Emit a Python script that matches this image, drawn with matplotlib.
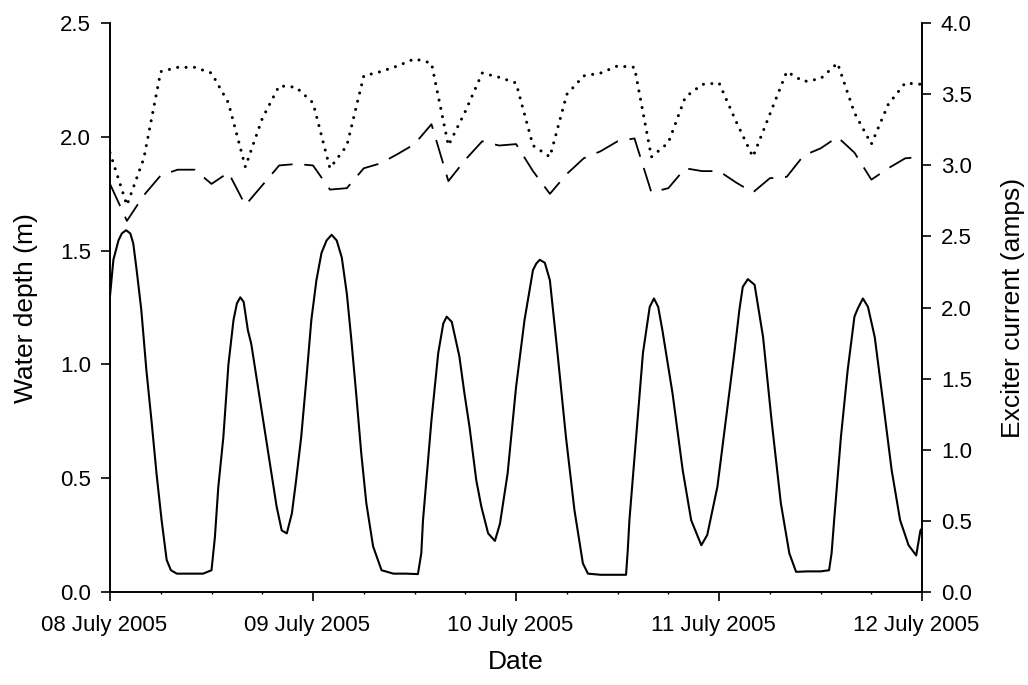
#!/usr/bin/env python3

from datetime import datetime, timedelta

import matplotlib
matplotlib.use("Agg")
import matplotlib.pyplot as plt
import matplotlib.dates as mdates
import matplotlib.transforms as mtransforms


START = datetime(2005, 7, 8)
END = datetime(2005, 7, 12)

# water depth record: hours since 08 July 00:00 and depth (m)
depth_hours = [
    0.0, 0.4, 1.0, 1.4, 1.9, 2.4, 2.75, 3.15, 3.7, 4.3, 4.9, 5.5, 6.1, 6.7, 7.2, 7.9, 9.0,
    10.0, 11.0, 12.0, 12.4, 12.8, 13.4, 14.0, 14.6, 15.0, 15.4, 15.8, 16.3, 16.7, 17.5,
    18.1, 18.9, 19.7, 20.3, 20.9, 21.5, 22.0, 22.6, 23.2, 23.8, 24.4, 25.0, 25.6, 26.2,
    26.8, 27.4, 28.0, 28.5, 29.1, 29.7, 30.3, 31.1, 32.1, 33.5, 35.0, 36.4, 36.8, 37.0,
    37.6, 38.0, 38.8, 39.4, 39.8, 40.4, 41.3, 41.9, 42.5, 43.3, 43.9, 44.7, 45.5, 46.1,
    47.0, 48.0, 49.0, 50.0, 50.4, 50.8, 51.4, 52.0, 52.9, 53.9, 54.9, 55.9, 56.5, 58.0,
    60.0, 61.0, 61.2, 61.4, 62.2, 63.0, 63.8, 64.3, 64.8, 65.3, 66.5, 67.7, 68.7, 69.9,
    70.6, 71.8, 72.8, 73.8, 74.4, 74.8, 75.4, 76.2, 77.2, 78.2, 79.3, 80.3, 81.1, 82.5,
    84.0, 85.0, 85.3, 85.6, 86.4, 87.2, 88.0, 88.4, 89.0, 89.6, 90.4, 91.4, 92.4, 93.4,
    94.4, 95.3, 95.8, 96.0,
]
depth_m = [
    1.30, 1.46, 1.545, 1.576, 1.59, 1.576, 1.532, 1.415, 1.24, 0.975, 0.755, 0.52, 0.315, 0.14, 0.095, 0.08, 0.08,
    0.08, 0.08, 0.095, 0.24, 0.46, 0.68, 1.00, 1.195, 1.268, 1.295, 1.275, 1.15, 1.09, 0.90,
    0.755, 0.565, 0.374, 0.27, 0.257, 0.345, 0.49, 0.68, 0.93, 1.195, 1.37, 1.49, 1.545, 1.57,
    1.545, 1.47, 1.31, 1.12, 0.872, 0.61, 0.39, 0.20, 0.095, 0.08, 0.08, 0.078, 0.17, 0.315,
    0.58, 0.755, 1.05, 1.18, 1.21, 1.187, 1.035, 0.872, 0.725, 0.49, 0.374, 0.257, 0.224, 0.30,
    0.52, 0.90, 1.195, 1.415, 1.444, 1.46, 1.447, 1.37, 1.05, 0.68, 0.36, 0.125, 0.08, 0.075,
    0.075, 0.075, 0.18, 0.315, 0.68, 1.05, 1.253, 1.29, 1.253, 1.15, 0.872, 0.535, 0.315, 0.205,
    0.25, 0.462, 0.755, 1.05, 1.24, 1.341, 1.375, 1.35, 1.12, 0.755, 0.39, 0.17, 0.088, 0.09,
    0.09, 0.095, 0.17, 0.315, 0.68, 0.975, 1.21, 1.246, 1.29, 1.253, 1.12, 0.83, 0.535, 0.315,
    0.205, 0.16, 0.27, 0.28,
]

# exciter current, logged every two hours
current_hours = list(range(0, 97, 2))
current_dotted = [
    3.09, 2.72, 3.05, 3.66, 3.69, 3.69, 3.65, 3.44, 2.99, 3.33, 3.56, 3.55, 3.44,
    2.98, 3.14, 3.63, 3.66, 3.70, 3.75, 3.72, 3.14, 3.38, 3.65, 3.62, 3.58,
    3.14, 3.06, 3.50, 3.63, 3.65, 3.70, 3.69, 3.06, 3.16, 3.48, 3.57, 3.58,
    3.31, 3.06, 3.36, 3.66, 3.59, 3.61, 3.72, 3.37, 3.15, 3.43, 3.58, 3.57,
]
current_dashed = [
    2.87, 2.61, 2.79, 2.93, 2.97, 2.97, 2.87, 2.95, 2.72, 2.86, 3.00, 3.01, 3.00,
    2.83, 2.84, 2.98, 3.015, 3.08, 3.15, 3.29, 2.89, 3.04, 3.17, 3.14, 3.15,
    2.96, 2.80, 2.94, 3.05, 3.10, 3.17, 3.19, 2.81, 2.84, 2.98, 2.96, 2.96,
    2.88, 2.81, 2.91, 2.92, 3.07, 3.12, 3.20, 3.09, 2.90, 2.98, 3.05, 3.06,
]

depth_ticks = [0.0, 0.5, 1.0, 1.5, 2.0, 2.5]
current_ticks = [0.0, 0.5, 1.0, 1.5, 2.0, 2.5, 3.0, 3.5, 4.0]


def to_dates(hours):
    return [START + timedelta(hours=h) for h in hours]


def main():
    plt.rcParams["font.family"] = ["Liberation Sans", "DejaVu Sans"]

    fig = plt.figure(figsize=(10.28, 6.85), dpi=100)
    ax = fig.add_axes([0.107, 0.136, 0.790, 0.830])
    ax2 = ax.twinx()

    ax.plot(to_dates(depth_hours), depth_m, color="black", linewidth=1.5)
    ax2.plot(to_dates(current_hours), current_dotted, color="black", linewidth=2.2,
             linestyle=(0, (0.01, 2.75)), dash_capstyle="round")
    ax2.plot(to_dates(current_hours), current_dashed, color="black", linewidth=1.3,
             linestyle=(0, (13.5, 6.5)))

    ax.set_xlim(START, END)
    ax.set_ylim(0, 2.5)
    ax2.set_ylim(0, 4.0)
    ax.set_yticks(depth_ticks)
    ax.set_yticklabels([f"{v:.1f}" for v in depth_ticks])
    ax2.set_yticks(current_ticks)
    ax2.set_yticklabels([f"{v:.1f}" for v in current_ticks])

    ax.xaxis.set_major_locator(mdates.DayLocator())
    ax.xaxis.set_major_formatter(mdates.DateFormatter("%d %B %Y"))
    ax.xaxis.set_minor_locator(mdates.HourLocator(byhour=[6, 12, 18]))

    for a in (ax, ax2):
        a.spines["top"].set_visible(False)
        for side in ("left", "right", "bottom"):
            a.spines[side].set_linewidth(1.2)
        a.tick_params(which="major", direction="out", length=6.5, width=1.2,
                      labelsize=16, pad=7)
        a.tick_params(which="minor", direction="out", length=1.5, width=1.0)
    ax.tick_params(axis="x", which="major", pad=10.5)

    # date labels sit a little left of their ticks
    shift = mtransforms.ScaledTranslation(-6 / 100, 0, fig.dpi_scale_trans)
    for label in ax.get_xticklabels():
        label.set_transform(label.get_transform() + shift)

    ax.set_xlabel("Date", fontsize=19, labelpad=10)
    ax.set_ylabel("Water depth (m)", fontsize=19, labelpad=16)
    ax2.set_ylabel("Exciter current (amps)", fontsize=19, labelpad=21)

    fig.savefig("out.png", dpi=100)
    plt.close(fig)


if __name__ == "__main__":
    main()
